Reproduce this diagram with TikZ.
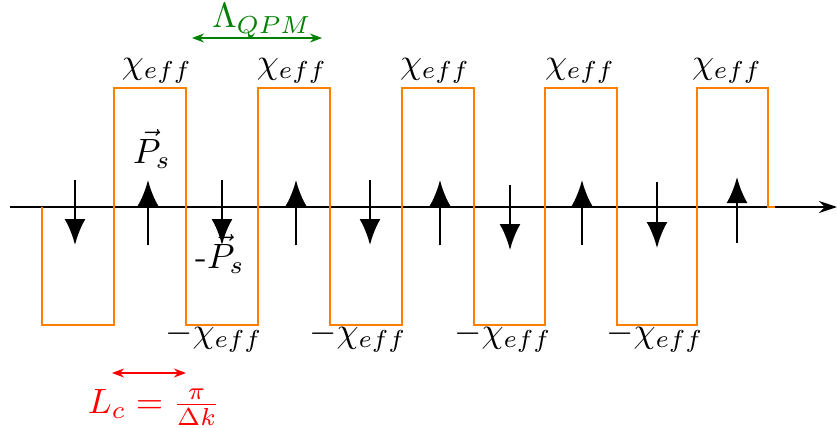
\documentclass[tikz,border=0pt]{standalone}
\usepackage{tikz}
\usetikzlibrary{arrows.meta}
\definecolor{pporange}{RGB}{255,128,0}
\tikzset{
  poling/.style={pporange, line width=0.6pt},
  pol/.style={-{Latex[length=0.26cm,width=0.21cm]}, thick},
  axisline/.style={-{Stealth[length=0.18cm,width=0.12cm]}},
  dimarrow/.style={{Stealth[length=0.12cm,width=0.09cm]}-{Stealth[length=0.12cm,width=0.09cm]}},
  lab/.style={anchor=base, inner sep=0pt}
}
\begin{document}
\begin{tikzpicture}[x=1cm,y=1cm]
  \useasboundingbox (0,-2.20) rectangle (8.37,2.07);
  % axis
  \coordinate (axs) at (0.10,0);
  \coordinate (axe) at (8.37,0);
  \draw[axisline] (axs) -- (axe);
  % poled domains
  \draw[poling] (0.42,0) -- (0.42,-1.18) -- (1.14,-1.18) -- (1.14,1.19) -- (1.86,1.19)
    -- (1.86,-1.18) -- (2.58,-1.18) -- (2.58,1.19) -- (3.30,1.19) -- (3.30,-1.18)
    -- (4.02,-1.18) -- (4.02,1.19) -- (4.74,1.19) -- (4.74,-1.18) -- (5.45,-1.18)
    -- (5.45,1.19) -- (6.17,1.19) -- (6.17,-1.18) -- (6.97,-1.18) -- (6.97,1.19)
    -- (7.68,1.19) -- (7.68,0) -- (7.75,0);
  \foreach \x [count=\i] in {1.57,2.92,4.35,5.80,7.27}
    \node[lab] (chi\i) at (\x,1.34) {$\chi_{eff}$};
  \foreach \x [count=\i] in {2.14,3.58,5.03,6.55}
    \node[lab] (mchi\i) at (\x,-1.35) {$-\chi_{eff}$};
  % polarization
  \foreach \x/\t/\b in {0.75/0.27/-0.38, 2.22/0.27/-0.38, 3.70/0.27/-0.38, 5.10/0.22/-0.43, 6.57/0.25/-0.41}
    \draw[pol] (\x,\t) -- (\x,\b);
  \foreach \x/\t/\b in {1.48/0.27/-0.38, 2.96/0.27/-0.38, 4.40/0.27/-0.38, 5.82/0.27/-0.38, 7.37/0.30/-0.36}
    \draw[pol] (\x,\b) -- (\x,\t);
  \node[lab] (ps) at (1.52,0.44) {$\vec{P}_s$};
  \node[lab] (mps) at (2.20,-0.61) {-$\vec{P}_s$};
  % periods
  \coordinate (qa) at (1.92,1.69);
  \coordinate (qb) at (3.22,1.69);
  \draw[dimarrow, green!50!black] (qa) -- (qb);
  \node[lab, green!50!black] (lqpm) at (2.62,1.79) {$\Lambda_{QPM}$};
  \coordinate (ca) at (1.12,-1.66);
  \coordinate (cb) at (1.86,-1.66);
  \draw[dimarrow, red] (ca) -- (cb);
  \node[lab, red] (lc) at (1.54,-2.06) {$L_c = \frac{\pi}{\Delta k}$};
\end{tikzpicture}
\end{document}
